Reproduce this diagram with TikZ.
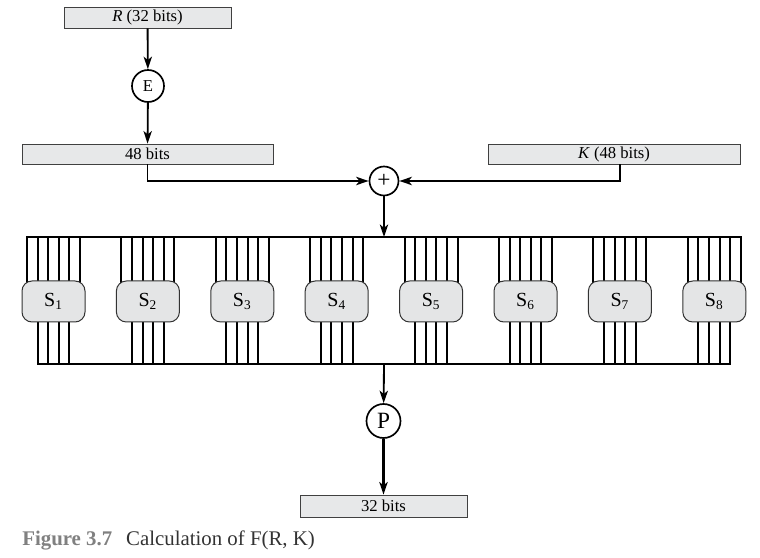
\documentclass[tikz,border=0pt]{standalone}
\usepackage{fontspec}
\setmainfont{Liberation Serif}
\usetikzlibrary{arrows.meta,backgrounds}
\definecolor{boxgray}{RGB}{231,232,233}
\definecolor{sgray}{RGB}{228,229,230}
\definecolor{capgray}{RGB}{128,128,128}
\begin{document}
\begin{tikzpicture}[x=0.6pt,y=-0.6pt]
\tikzset{bitbox/.style={draw=black!75, fill=boxgray, line width=0.5pt, minimum height=12pt, inner sep=0pt, font=\fontsize{10}{12}\selectfont},
sbox/.style={draw=black!80, fill=sgray, line width=0.6pt, rounded corners=6pt, minimum width=37.8pt, minimum height=24.6pt, inner sep=0pt, font=\fontsize{12}{14}\selectfont},
opnode/.style={draw, circle, line width=1pt, inner sep=0pt},
arr/.style={line width=1.1pt, -{Stealth[length=7.5pt,width=5pt,inset=2pt]}},
wire/.style={line width=1.2pt, line cap=rect}}
\useasboundingbox (0,0) rectangle (760,558);
\node[bitbox, minimum width=100.2pt, minimum height=12.6pt] (R) at (147.5,17.5) {\textit{R} (32 bits)};
\node[opnode, minimum size=19.2pt, font=\fontsize{10}{12}\selectfont] (E) at (148,86) {E};
\node[bitbox, minimum width=150.6pt] (B48) at (147.5,154) {48 bits};
\node[bitbox, minimum width=151.2pt] (K) at (614,154) {\textit{K} (48 bits)};
\node[opnode, minimum size=17.4pt, font=\fontsize{14}{14}\selectfont] (xor) at (384,181) {+};
\coordinate (tbus) at (384,237);
\coordinate (bbus) at (384,364);
\node[sbox] (S1) at (53.5,301.5) {S\textsubscript{1}};
\node[sbox] (S2) at (147.9,301.5) {S\textsubscript{2}};
\node[sbox] (S3) at (242.3,301.5) {S\textsubscript{3}};
\node[sbox] (S4) at (336.7,301.5) {S\textsubscript{4}};
\node[sbox] (S5) at (431.1,301.5) {S\textsubscript{5}};
\node[sbox] (S6) at (525.5,301.5) {S\textsubscript{6}};
\node[sbox] (S7) at (619.9,301.5) {S\textsubscript{7}};
\node[sbox] (S8) at (714.3,301.5) {S\textsubscript{8}};
\node[opnode, minimum size=20.4pt, font=\fontsize{14}{14}\selectfont] (P) at (383.5,421) {P};
\node[bitbox, minimum width=100.2pt, minimum height=13.2pt] (out) at (383.5,506) {32 bits};
\node[anchor=base west, inner sep=0pt, font=\fontsize{12.5}{14}\selectfont, text=black!80] (cap) at (22,545) {\textcolor{capgray}{\textbf{Figure 3.7}}\hspace{8.4pt}Calculation of F(R, K)};
\draw[arr] (R) -- (E);
\draw[arr] (E) -- (B48);
\draw[arr] (B48.south) |- (xor);
\draw[arr] ([xshift=3.6pt]K.south) |- (xor);
\draw[arr] (xor) -- (tbus);
\begin{scope}[on background layer]
\foreach \i in {1,...,8} {
  \foreach \d in {-15.9,-9.54,-3.18,3.18,9.54,15.9}
    \draw[wire] ([xshift=\d pt]S\i.center) -- ([xshift=\d pt]S\i.center |- tbus);
  \foreach \d in {-9.54,-3.18,3.18,9.54}
    \draw[wire] ([xshift=\d pt]S\i.center) -- ([xshift=\d pt]S\i.center |- bbus);
}
\end{scope}
\draw[wire] ([xshift=-15.9pt]S1.center |- tbus) -- ([xshift=15.9pt]S8.center |- tbus);
\draw[wire] ([xshift=-9.54pt]S1.center |- bbus) -- ([xshift=9.54pt]S8.center |- bbus);
\draw[arr] (bbus) -- (P);
\draw[arr, line width=1.7pt] (P) -- (out);
\end{tikzpicture}
\end{document}
